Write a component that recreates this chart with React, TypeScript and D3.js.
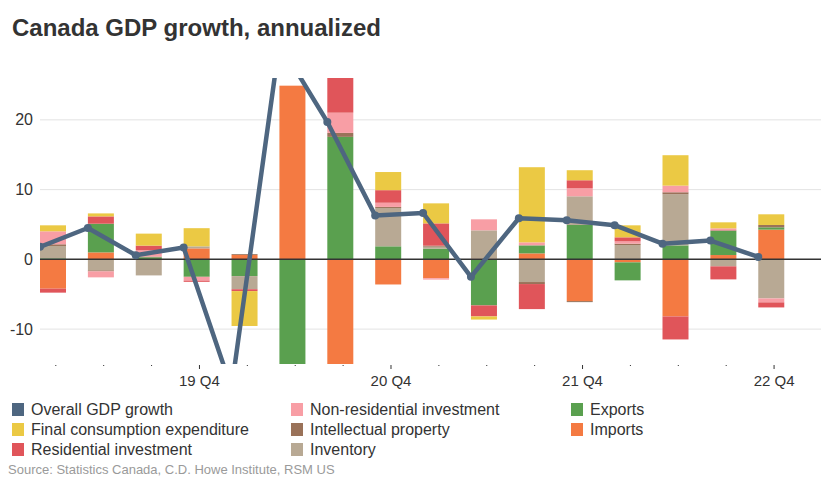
import React from "react";
import * as d3 from "d3";

const quarters = ["19 Q1","19 Q2","19 Q3","19 Q4","20 Q1","20 Q2","20 Q3","20 Q4","21 Q1","21 Q2","21 Q3","21 Q4","22 Q1","22 Q2","22 Q3","22 Q4"];
const gdp = [1.8, 4.5, 0.6, 1.7, -18.5, 31, 19.7, 6.3, 6.65, -2.5, 5.9, 5.6, 4.9, 2.25, 2.7, 0.35];
const fce = [0.86, 0.43, 1.72, 2.6, -5.0, -22, 15, 2.6, 2.87, -0.45, 10.77, 1.44, 1.72, 4.36, 0.86, 1.53];
const residential = [-0.57, 1.05, 0.67, -0.17, -0.27, -2, 6, 1.8, 3.2, -1.58, -3.59, 1.15, 0.58, -3.3, -1.87, -0.72];
const nonResidential = [1.86, -0.86, 0.9, -0.55, 0, -3, 2.9, 0.6, -0.2, 1.58, 0.43, 1.15, 0.33, 0.95, 0.28, -0.57];
const intellectual = [0.24, -0.14, 0.1, 0, 0.12, 0, 0.57, 0.15, 0.14, 0, -0.29, -0.15, 0.19, 0.29, 0.1, 0.34];
const inventory = [1.77, -1.58, -2.3, 0.29, -1.88, -5, -3, 5.5, 0.29, 4.06, -3.25, 4.11, 2.06, 7.33, -1.0, -5.6];
const exportsC = [0.15, 4.11, 0.25, -2.5, -2.4, -18, 17.56, 1.87, 1.53, -6.6, 1.15, 4.93, -2.58, 2.0, 3.45, 0.33];
const importsC = [-4.2, 1.0, 0.05, 1.58, 0.63, 24.9, -18, -3.6, -2.7, 0.1, 0.86, -5.98, -0.43, -8.18, 0.62, 4.26];
const yTicks = [-10, 0, 10, 20];

const series = [
  { key: "imports", label: "Imports", color: "#f47a42", values: importsC },
  { key: "exports", label: "Exports", color: "#5aa04f", values: exportsC },
  { key: "inventory", label: "Inventory", color: "#b8a994", values: inventory },
  { key: "ip", label: "Intellectual property", color: "#9a7259", values: intellectual },
  { key: "nonres", label: "Non-residential investment", color: "#f89ea5", values: nonResidential },
  { key: "res", label: "Residential investment", color: "#e0555a", values: residential },
  { key: "fce", label: "Final consumption expenditure", color: "#ebc944", values: fce },
];
const gdpColor = "#4e6680";

const legendItems = [
  { label: "Overall GDP growth", color: gdpColor },
  { label: "Final consumption expenditure", color: "#ebc944" },
  { label: "Residential investment", color: "#e0555a" },
  { label: "Non-residential investment", color: "#f89ea5" },
  { label: "Intellectual property", color: "#9a7259" },
  { label: "Inventory", color: "#b8a994" },
  { label: "Exports", color: "#5aa04f" },
  { label: "Imports", color: "#f47a42" },
];

export default function App() {
  const W = 829, H = 489;
  const left = 40, right = 821, top = 78, bottom = 364;
  const x = d3.scaleLinear().domain([0, 16.31]).range([left, right]);
  const y = d3.scaleLinear().domain([-15, 26]).range([bottom, top]);
  const barW = x(0.543) - x(0);

  const rows = quarters.map((q, i) => {
    const r: any = { i };
    series.forEach((s) => (r[s.key] = s.values[i]));
    return r;
  });
  const stacked = d3
    .stack()
    .keys(series.map((s) => s.key))
    .offset(d3.stackOffsetDiverging)(rows);

  const line = d3
    .line<number>()
    .x((d, i) => x(i))
    .y((d) => y(d));

  const font = "'Liberation Sans', Arial, sans-serif";
  const tickOffset = 0.33;

  return (
    <div style={{ position: "fixed", left: 0, top: 0 }}>
      <svg width={W} height={H} style={{ display: "block", fontFamily: font }}>
        <rect width={W} height={H} fill="#fff" />
        <text x={12} y={36} fontSize={24} fontWeight="bold" fill="#333">
          Canada GDP growth, annualized
        </text>
        <defs>
          <clipPath id="plotClip">
            <rect x={left} y={top} width={right - left} height={bottom - top} />
          </clipPath>
        </defs>
        {yTicks.map((t) => (
          <g key={t}>
            {t !== 0 && (
              <line x1={left} x2={right} y1={y(t)} y2={y(t)} stroke="#e3e3e3" strokeWidth={1} />
            )}
            <text x={33} y={y(t)} dy="0.35em" textAnchor="end" fontSize={16} fill="#333">
              {t}
            </text>
          </g>
        ))}
        <g clipPath="url(#plotClip)">
          {stacked.map((layer, li) => (
            <g key={layer.key} fill={series[li].color}>
              {layer.map((d, i) => {
                const y0 = y(d[0]);
                const y1 = y(d[1]);
                const h = Math.abs(y0 - y1);
                if (h < 0.01) return null;
                return <rect key={i} x={x(i)} y={Math.min(y0, y1)} width={barW} height={h} />;
              })}
            </g>
          ))}
        </g>
        <line x1={left} x2={right} y1={y(0)} y2={y(0)} stroke="#333" strokeWidth={1.5} />
        <g clipPath="url(#plotClip)">
          <path d={line(gdp) || ""} fill="none" stroke={gdpColor} strokeWidth={4.5} strokeLinejoin="round" />
          {gdp.map((v, i) => (
            <circle key={i} cx={x(i)} cy={y(v)} r={4} fill={gdpColor} />
          ))}
        </g>
        {quarters.map((q, i) => {
          const tx = x(i + tickOffset);
          const major = q.endsWith("Q4");
          return (
            <g key={q}>
              <line x1={tx} x2={tx} y1={bottom + 1} y2={bottom + (major ? 5 : 2)} stroke="#333" strokeWidth={1} />
              {major && (
                <text x={tx} y={386} textAnchor="middle" fontSize={15} fill="#333">
                  {q}
                </text>
              )}
            </g>
          );
        })}
        {legendItems.map((it, k) => {
          const col = Math.floor(k / 3);
          const row = k % 3;
          const lx = [12, 291, 571][col];
          const ly = 409 + row * 20;
          return (
            <g key={it.label}>
              <rect x={lx} y={ly - 6} width={12} height={13} fill={it.color} />
              <text x={lx + 19} y={ly} dy="0.35em" fontSize={16} fill="#333">
                {it.label}
              </text>
            </g>
          );
        })}
        <text x={8} y={474} fontSize={13} fill="#9a9a9a">
          Source: Statistics Canada, C.D. Howe Institute, RSM US
        </text>
      </svg>
    </div>
  );
}
